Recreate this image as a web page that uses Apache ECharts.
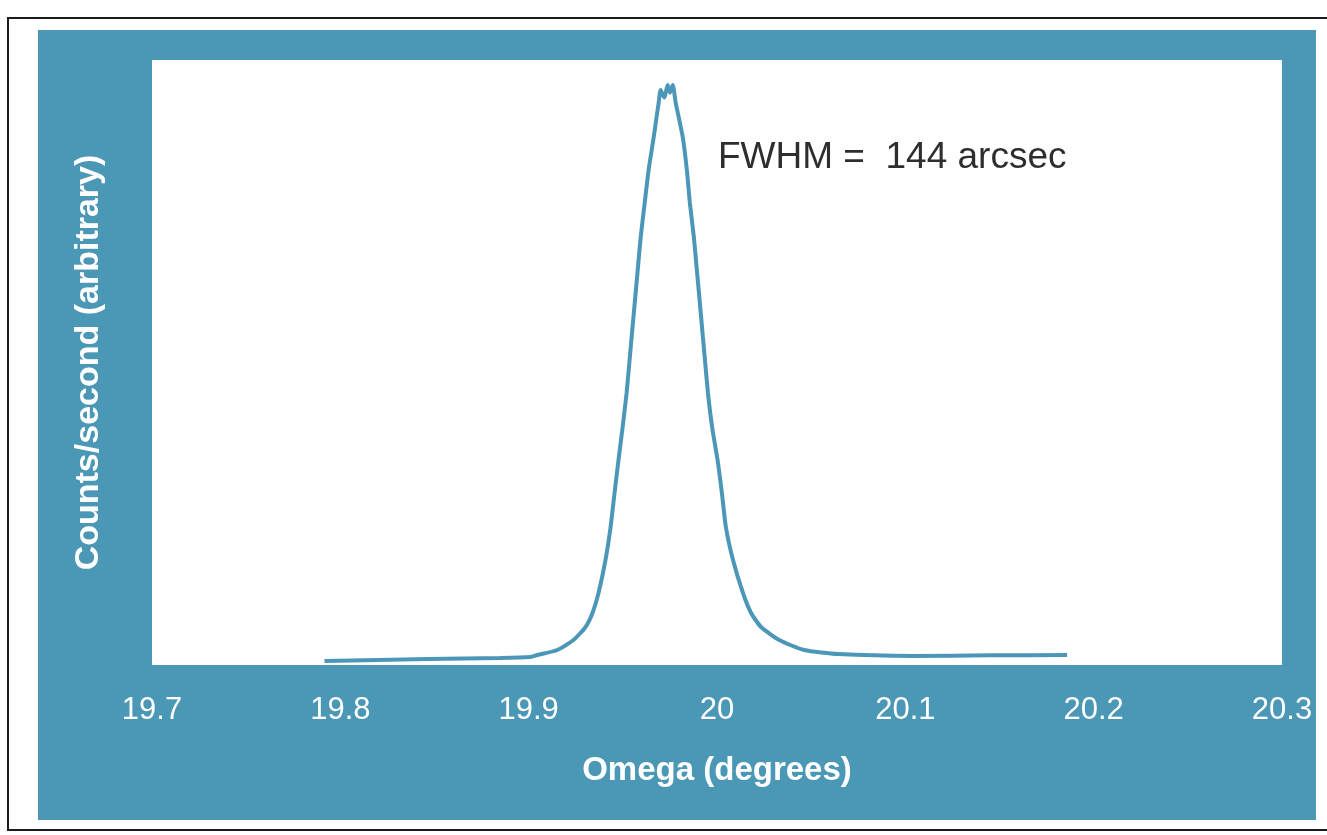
<!DOCTYPE html>
<html>
<head>
<meta charset="utf-8">
<style>
html,body{margin:0;padding:0;background:#fff;}
#c{width:1327px;height:835px;}
</style>
<script src="https://cdn.jsdelivr.net/npm/echarts@6/dist/echarts.min.js"></script>
</head>
<body>
<div id="c"></div>
<script>
// Data
const omega = [19.7916, 19.8465, 19.8849, 19.9009, 19.9046, 19.9152, 19.9238, 19.9302, 19.9339, 19.9371, 19.9408, 19.9435, 19.9456, 19.9477, 19.9499, 19.952, 19.9533, 19.9547, 19.9557, 19.9579, 19.9595, 19.9616, 19.9637, 19.9664, 19.969, 19.9701, 19.972, 19.9738, 19.975, 19.9765, 19.9781, 19.9818, 19.984, 19.9856, 19.9877, 19.9893, 19.9909, 19.9925, 19.9936, 19.9952, 19.9974, 20.0003, 20.0026, 20.0047, 20.0085, 20.0138, 20.0181, 20.0234, 20.033, 20.0463, 20.0644, 20.1044, 20.1453, 20.1859];
const counts = [0.66, 1.0, 1.15, 1.32, 1.65, 2.48, 4.13, 6.28, 8.6, 11.9, 17.36, 22.81, 28.43, 33.88, 39.34, 44.96, 49.4, 54.3, 57.7, 65.29, 70.74, 76.36, 81.82, 87.27, 92.89, 95.04, 93.8, 95.87, 94.6, 95.87, 92.89, 87.27, 81.82, 76.36, 70.74, 65.29, 59.83, 54.21, 50.41, 44.96, 39.34, 33.88, 28.43, 22.81, 17.36, 11.9, 8.6, 6.28, 4.13, 2.48, 1.8, 1.5, 1.6, 1.65];
const xTicks = [19.7, 19.8, 19.9, 20.0, 20.1, 20.2, 20.3];
const xTitle = 'Omega (degrees)';
const yTitle = 'Counts/second (arbitrary)';
const note = 'FWHM =  144 arcsec';

const teal = '#4b97b6';
const font = '"Liberation Sans", Arial, sans-serif';
const chart = echarts.init(document.getElementById('c'));
chart.setOption({
  animation: false,
  backgroundColor: '#ffffff',
  graphic: [
    { type: 'rect', z: -10, shape: { x: 8, y: 18, width: 1340, height: 812 }, style: { fill: 'none', stroke: '#1a1a1a', lineWidth: 2 } },
    { type: 'rect', z: -9, shape: { x: 38, y: 30, width: 1278, height: 790 }, style: { fill: teal } },
    { type: 'text', z: 10, x: 718, y: 158, style: { text: note, fill: '#2e2e2e', font: '37px ' + font, textVerticalAlign: 'middle' } }
  ],
  grid: { left: 152, right: 45, top: 60, bottom: 170, show: true, backgroundColor: '#ffffff', borderWidth: 0 },
  xAxis: {
    type: 'value',
    min: xTicks[0], max: xTicks[xTicks.length - 1], interval: 0.1,
    axisLine: { show: false }, axisTick: { show: false }, splitLine: { show: false },
    axisLabel: {
      color: '#ffffff', fontSize: 31, fontFamily: font, margin: 30,
      formatter: v => String(parseFloat(v.toFixed(1)))
    },
    name: xTitle, nameLocation: 'middle', nameGap: 89,
    nameTextStyle: { color: '#ffffff', fontSize: 33, fontWeight: 'bold', fontFamily: font }
  },
  yAxis: {
    type: 'value', min: 0, max: 100,
    axisLine: { show: false }, axisTick: { show: false }, splitLine: { show: false }, axisLabel: { show: false },
    name: yTitle, nameLocation: 'middle', nameGap: 46,
    nameTextStyle: { color: '#ffffff', fontSize: 34, fontWeight: 'bold', fontFamily: font }
  },
  series: [{
    type: 'line',
    data: omega.map((x, i) => [x, counts[i]]),
    showSymbol: false,
    smooth: 0.2,
    lineStyle: { color: '#4c97b8', width: 4 }
  }]
});
</script>
</body>
</html>
